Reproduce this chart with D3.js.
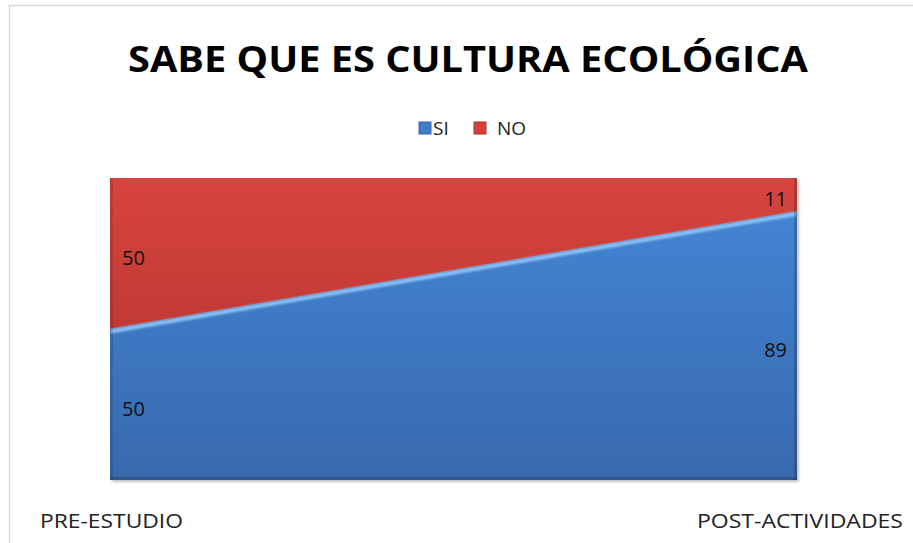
<!DOCTYPE html>
<html lang="es">
<head>
<meta charset="UTF-8">
<title>Sabe que es cultura ecológica</title>
<script src="https://cdn.jsdelivr.net/npm/d3@7"></script>
<style>
  body { margin: 0; background: #fff; }
  svg { display: block; font-family: "Open Sans", "Noto Sans", sans-serif; }
</style>
</head>
<body>
<div id="chart"></div>
<script>
// datos
const categories = ["PRE-ESTUDIO", "POST-ACTIVIDADES"];
const seriesNames = ["SI", "NO"];
const siValues = [50, 89];
const noValues = [50, 11];
const colors = { SI: "#3f7cc9", NO: "#d2403b" };

const W = 913, H = 543;
const plot = { left: 110, right: 797, top: 178, bottom: 480 };

const svg = d3.select("#chart").append("svg")
  .attr("width", W).attr("height", H);

// marco del gráfico
svg.append("rect")
  .attr("x", 9.5).attr("y", 5.5)
  .attr("width", W + 10).attr("height", H + 10)
  .attr("fill", "none").attr("stroke", "#d9d9d9").attr("stroke-width", 1.5);

const defs = svg.append("defs");
const gBlue = defs.append("linearGradient").attr("id", "gBlue")
  .attr("x1", 0).attr("y1", 0).attr("x2", 0).attr("y2", 1);
gBlue.append("stop").attr("offset", "0%").attr("stop-color", "#4384d3");
gBlue.append("stop").attr("offset", "100%").attr("stop-color", "#3869ad");
const gRed = defs.append("linearGradient").attr("id", "gRed")
  .attr("x1", 0).attr("y1", 0).attr("x2", 0).attr("y2", 1);
gRed.append("stop").attr("offset", "0%").attr("stop-color", "#d8443f");
gRed.append("stop").attr("offset", "100%").attr("stop-color", "#c13a34");
const blur = defs.append("filter").attr("id", "soft");
blur.append("feGaussianBlur").attr("stdDeviation", 1.2);

const rows = categories.map((c, i) => ({ cat: c, SI: siValues[i], NO: noValues[i] }));
const stack = d3.stack().keys(seriesNames);
const layers = stack(rows);

const x = d3.scalePoint().domain(categories).range([plot.left, plot.right]);
const y = d3.scaleLinear().domain([0, 100]).range([plot.bottom, plot.top]);

const area = d3.area()
  .x(d => x(d.data.cat))
  .y0(d => y(d[0]))
  .y1(d => y(d[1]));

// sombra
svg.append("rect")
  .attr("x", plot.left + 2).attr("y", plot.top + 2)
  .attr("width", plot.right - plot.left).attr("height", plot.bottom - plot.top)
  .attr("fill", "#888").attr("opacity", 0.5).attr("filter", "url(#soft)");

svg.append("g").selectAll("path")
  .data(layers)
  .join("path")
  .attr("d", area)
  .attr("fill", d => d.key === "SI" ? "url(#gBlue)" : "url(#gRed)");

// bisel: borde superior claro
const topLine = d3.line()
  .x(d => x(d.data.cat))
  .y(d => y(d[1]) + 2.5);
svg.append("g").selectAll("path")
  .data(layers)
  .join("path")
  .attr("d", topLine)
  .attr("fill", "none")
  .attr("stroke", d => d.key === "SI" ? "#8cc3f7" : "#e8736c")
  .attr("stroke-width", 4)
  .attr("filter", "url(#soft)");

// bisel: bordes laterales oscuros
svg.append("line")
  .attr("x1", plot.left + 1.5).attr("x2", plot.left + 1.5)
  .attr("y1", plot.top).attr("y2", plot.bottom)
  .attr("stroke", "#000").attr("stroke-opacity", 0.12).attr("stroke-width", 3);
svg.append("line")
  .attr("x1", plot.right - 1.5).attr("x2", plot.right - 1.5)
  .attr("y1", plot.top).attr("y2", plot.bottom)
  .attr("stroke", "#000").attr("stroke-opacity", 0.18).attr("stroke-width", 3);
svg.append("line")
  .attr("x1", plot.left).attr("x2", plot.right)
  .attr("y1", plot.bottom - 1.5).attr("y2", plot.bottom - 1.5)
  .attr("stroke", "#000").attr("stroke-opacity", 0.18).attr("stroke-width", 3);

// etiquetas de datos
const labels = [];
layers.forEach(layer => {
  layer.forEach((d, i) => {
    labels.push({ key: layer.key, i: i, v: d.data[layer.key], mid: (d[0] + d[1]) / 2 });
  });
});
svg.append("g").selectAll("text")
  .data(labels)
  .join("text")
  .attr("x", d => d.i === 0 ? x(categories[0]) + 12 : x(categories[1]) - 10)
  .attr("y", d => y(d.mid) + 11)
  .attr("text-anchor", d => d.i === 0 ? "start" : "end")
  .attr("font-size", 20)
  .attr("fill", "#111")
  .text(d => d.v);

// categorías
const catWidths = [143, 206];
svg.append("g").selectAll("text")
  .data(categories)
  .join("text")
  .attr("x", (d, i) => i === 0 ? 40 : 903)
  .attr("y", 528)
  .attr("text-anchor", (d, i) => i === 0 ? "start" : "end")
  .attr("font-size", 20)
  .attr("fill", "#222")
  .attr("textLength", (d, i) => catWidths[i])
  .attr("lengthAdjust", "spacingAndGlyphs")
  .text(d => d);

// título
svg.append("text")
  .attr("x", 468).attr("y", 72)
  .attr("text-anchor", "middle")
  .attr("font-size", 35).attr("font-weight", "bold")
  .attr("fill", "#000")
  .attr("textLength", 680).attr("lengthAdjust", "spacingAndGlyphs")
  .text("SABE QUE ES CULTURA ECOLÓGICA");

// leyenda
const legend = svg.append("g").attr("transform", "translate(419,122)");
const li = legend.selectAll("g").data(seriesNames).join("g")
  .attr("transform", (d, i) => `translate(${i * 55},0)`);
li.append("rect").attr("width", 12).attr("height", 12)
  .attr("fill", d => colors[d]).attr("stroke", d => d3.color(colors[d]).darker(0.6));
li.append("text").attr("x", d => d === "SI" ? 14 : 23).attr("y", 13)
  .attr("font-size", 19).attr("fill", "#222").text(d => d);
</script>
</body>
</html>
